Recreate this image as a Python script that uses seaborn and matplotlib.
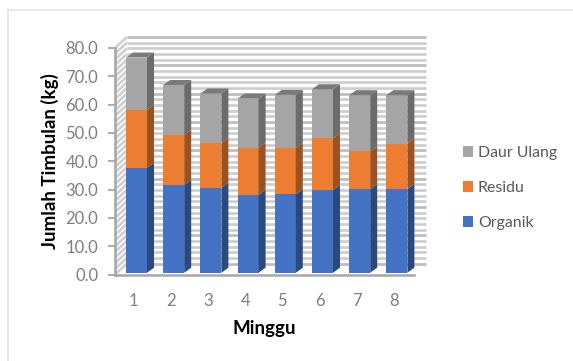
import numpy as np
import matplotlib
matplotlib.use("Agg")
import matplotlib.pyplot as plt
from matplotlib.lines import Line2D
from matplotlib.patches import Patch, Polygon
from matplotlib.transforms import ScaledTranslation
import seaborn as sns

minggu = ["1", "2", "3", "4", "5", "6", "7", "8"]
organik = [37.0, 31.0, 30.0, 27.5, 27.7, 29.2, 29.5, 29.6]
residu = [20.5, 17.7, 15.8, 16.7, 16.3, 18.3, 13.4, 16.0]
daur_ulang = [18.5, 17.6, 17.5, 17.3, 18.8, 17.3, 19.8, 17.1]

series = [
    ("Organik", organik, "#4472C4", "#2A4A7F", "#2A4A7F"),
    ("Residu", residu, "#ED7D31", "#9C5220", "#9C5220"),
    ("Daur Ulang", daur_ulang, "#A5A5A5", "#6B6B6B", "#7A7A7A"),
]

W, H = 573, 361
sns.set_theme(style="white")
plt.rcParams["font.family"] = ["Lato", "DejaVu Sans"]

fig = plt.figure(figsize=(W / 100, H / 100), dpi=100, facecolor="white")
# Plot frame in figure fractions
left, right, top, bottom = 115, 414, 48, 274.5
ax = fig.add_axes([left / W, 1 - bottom / H, (right - left) / W, (bottom - top) / H])
ax.patch.set_alpha(0)

x_min, x_max = -0.578, 7.46
px_x = (right - left) / (x_max - x_min)
px_y = (bottom - top) / 80.0
ax.set_xlim(x_min, x_max)
ax.set_ylim(0, 80)

# Perspective offsets, in data units
wall_dx, wall_dy = 12 / px_x, 11 / px_y
bar_dx, bar_dy = 7 / px_x, 5 / px_y
lift = 1.8 / px_y
bar_width = 21 / px_x

# Back wall and side wall with striped gridlines
for v in np.arange(0, 80.1, 2):
    is_major = v % 10 == 0
    lw = 2.0 if is_major else 1.9
    colour = "#BEBEBE" if is_major else "#CDCDCD"
    ax.add_line(Line2D([x_min + wall_dx, x_max + wall_dx], [v + wall_dy, v + wall_dy],
                       color=colour, lw=lw, clip_on=False, zorder=1, solid_capstyle="butt"))
    ax.add_line(Line2D([x_min, x_min + wall_dx], [v, v + wall_dy],
                       color="#D0D0D0", lw=1.9, clip_on=False, zorder=1, solid_capstyle="butt"))

# Front faces via seaborn, sides and caps from the same stacked values
base = np.zeros(len(minggu))
for name, values, front, side, cap in series:
    values = np.asarray(values)
    sns.barplot(x=minggu, y=values, bottom=base + lift, width=bar_width, color=front,
                saturation=1, order=minggu, ax=ax, zorder=3, linewidth=0)
    for i, (b, v) in enumerate(zip(base, values)):
        x_r = i + bar_width / 2
        y0, y1 = b + lift, b + v + lift
        ax.add_patch(Polygon([(x_r, y0), (x_r + bar_dx, y0 + bar_dy),
                              (x_r + bar_dx, y1 + bar_dy), (x_r, y1)],
                             closed=True, fc=side, ec="none", zorder=3, clip_on=False))
    base = base + values

for i, t in enumerate(base):
    x_l, x_r = i - bar_width / 2, i + bar_width / 2
    y1 = t + lift
    ax.add_patch(Polygon([(x_l, y1), (x_r, y1), (x_r + bar_dx, y1 + bar_dy), (x_l + bar_dx, y1 + bar_dy)],
                         closed=True, fc=series[-1][4], ec="none", zorder=3, clip_on=False))

ax.set_xlim(x_min, x_max)
ax.set_ylim(0, 80)

# Axes styling
sns.despine(ax=ax, top=True, right=True)
for s in ("left", "bottom"):
    ax.spines[s].set_color("#A6A6A6")
    ax.spines[s].set_linewidth(1.8)
    ax.spines[s].set_zorder(4)
ax.set_yticks(np.arange(0, 81, 10))
ax.set_yticklabels([f"{v:.1f}" for v in np.arange(0, 81, 10)])
ax.tick_params(axis="y", length=5, width=1.3, color="#A6A6A6", labelcolor="#7F7F7F",
               labelsize=12, pad=7, left=True)
ax.tick_params(axis="x", length=0, labelcolor="#7F7F7F", labelsize=12, pad=13)
nudge = ScaledTranslation(-3 / 100, 0, fig.dpi_scale_trans)
for lab in ax.get_xticklabels():
    lab.set_transform(lab.get_transform() + nudge)
ax.set_xlabel("Minggu", fontsize=13.5, fontweight="bold", color="black", labelpad=8)
ax.set_ylabel("Jumlah Timbulan (kg)", fontsize=13.5, fontweight="bold", color="black", labelpad=5)

# Legend listed from the top of the stack downward
handles = [Patch(fc=c, ec="none", label=n) for n, _, c, _, _ in reversed(series)]
fig.legend(handles=handles, loc="center left", bbox_to_anchor=(458 / W, 1 - 188 / H), frameon=False,
           fontsize=11.4, labelcolor="#595959", handlelength=0.65, handleheight=0.65,
           handletextpad=0.3, labelspacing=1.32, borderaxespad=0, borderpad=0.3)

# Thin frame around the chart area
frame = "#E4E4E4"
fig.add_artist(Line2D([8 / W, 8 / W], [0, 1 - 10 / H], color=frame, lw=1.2, transform=fig.transFigure))
fig.add_artist(Line2D([8 / W, 1], [1 - 10 / H, 1 - 10 / H], color=frame, lw=1.2, transform=fig.transFigure))

fig.savefig("out.png", dpi=100, facecolor="white")
